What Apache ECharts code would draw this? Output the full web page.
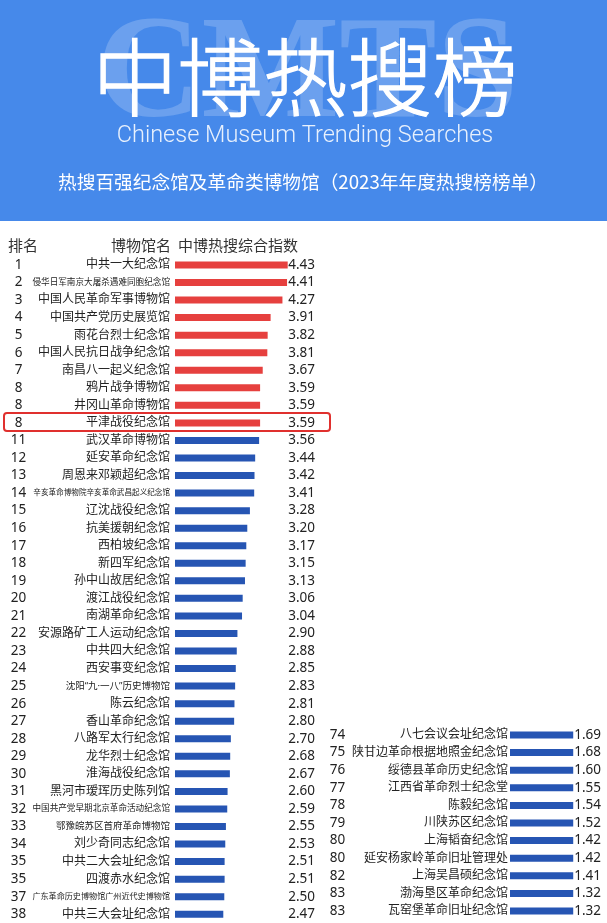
<!DOCTYPE html>
<html><head><meta charset="utf-8">
<script src="https://cdn.jsdelivr.net/npm/echarts@6.0.0/dist/echarts.min.js"></script>
<style>html,body{margin:0;padding:0;background:#fff}#c{width:607px;height:923px}</style>
</head><body><div id="c"></div>
<script>
// ---- data ----
const leftRanks = [1,2,3,4,5,6,7,8,8,8,11,12,13,14,15,16,17,18,19,20,21,22,23,24,25,26,27,28,29,30,31,32,33,34,35,35,37,38];
const leftNames = ['中共一大纪念馆','侵华日军南京大屠杀遇难同胞纪念馆','中国人民革命军事博物馆','中国共产党历史展览馆','雨花台烈士纪念馆','中国人民抗日战争纪念馆','南昌八一起义纪念馆','鸦片战争博物馆','井冈山革命博物馆','平津战役纪念馆','武汉革命博物馆','延安革命纪念馆','周恩来邓颖超纪念馆','辛亥革命博物院辛亥革命武昌起义纪念馆','辽沈战役纪念馆','抗美援朝纪念馆','西柏坡纪念馆','新四军纪念馆','孙中山故居纪念馆','渡江战役纪念馆','南湖革命纪念馆','安源路矿工人运动纪念馆','中共四大纪念馆','西安事变纪念馆','沈阳“九·一八”历史博物馆','陈云纪念馆','香山革命纪念馆','八路军太行纪念馆','龙华烈士纪念馆','淮海战役纪念馆','黑河市瑷珲历史陈列馆','中国共产党早期北京革命活动纪念馆','鄂豫皖苏区首府革命博物馆','刘少奇同志纪念馆','中共二大会址纪念馆','四渡赤水纪念馆','广东革命历史博物馆广州近代史博物馆','中共三大会址纪念馆'];
const leftValues = [4.43,4.41,4.27,3.91,3.82,3.81,3.67,3.59,3.59,3.59,3.56,3.44,3.42,3.41,3.28,3.20,3.17,3.15,3.13,3.06,3.04,2.90,2.88,2.85,2.83,2.81,2.80,2.70,2.68,2.67,2.60,2.59,2.55,2.53,2.51,2.51,2.50,2.47];
const rightRanks = [74,75,76,77,78,79,80,80,82,83,83];
const rightNames = ['八七会议会址纪念馆','陕甘边革命根据地照金纪念馆','绥德县革命历史纪念馆','江西省革命烈士纪念堂','陈毅纪念馆','川陕苏区纪念馆','上海韬奋纪念馆','延安杨家岭革命旧址管理处','上海吴昌硕纪念馆','渤海垦区革命纪念馆','瓦窑堡革命旧址纪念馆'];
const rightValues = [1.69,1.68,1.60,1.55,1.54,1.52,1.42,1.42,1.41,1.32,1.32];
const columnHeaders = ['排名','博物馆名','中博热搜综合指数'];
const titleCN = '中博热搜榜';
const titleEN = 'Chinese Museum Trending Searches';
const subtitle = '热搜百强纪念馆及革命类博物馆（2023年年度热搜榜榜单）';
const watermark = 'CMTS';

// ---- styles ----
const RED = '#e6403e', BLUE = '#2655b3', TXT = '#222';
const FONT = '"Noto Sans", "Noto Sans CJK SC", sans-serif';
const chart = echarts.init(document.getElementById('c'), null, {renderer:'canvas'});

function smallSize(v){
  if (v.indexOf('“') >= 0) return 9.5;
  return Math.min(9.5, 137 / v.length);
}
function keyOf(fs){ return 's' + fs.toFixed(1).replace('.', '_'); }
function leftNameFormatter(v){
  if (v.length <= 11) return '{n|' + v + '}';
  return '{' + keyOf(smallSize(v)) + '|' + v + '}';
}
const rich = {n:{fontSize:12, color:TXT, fontFamily:FONT}};
leftNames.forEach(v=>{
  if (v.length > 11){ const fs = smallSize(v); rich[keyOf(fs)] = {fontSize:+fs.toFixed(1), color:TXT, fontFamily:FONT}; }
});

const LGRID = {left:175, top:256.2, width:115, height:667.3};
const RGRID = {left:510, top:726.2, width:91, height:193.6};

function catAxis(gridIndex, data, extra){
  return Object.assign({type:'category', gridIndex, data, inverse:true,
    axisLine:{show:false}, axisTick:{show:false}, splitLine:{show:false}}, extra);
}

const option = {
  animation:false,
  textStyle:{fontFamily:FONT},
  grid:[Object.assign({containLabel:false}, LGRID), Object.assign({containLabel:false}, RGRID)],
  xAxis:[
    {type:'value', gridIndex:0, min:1, max:4.5, show:false},
    {type:'value', gridIndex:1, min:0, max:1.72, show:false}
  ],
  yAxis:[
    catAxis(0, leftNames, {position:'left', axisLabel:{interval:0, margin:5, formatter:leftNameFormatter, rich}}),
    catAxis(0, leftNames, {position:'left', axisLabel:{interval:0, margin:156.5, align:'center', fontSize:13.5, color:TXT, fontFamily:FONT, formatter:(v,i)=>String(leftRanks[i])}}),
    catAxis(0, leftNames, {position:'right', axisLabel:{interval:0, margin:25, align:'right', fontSize:13.5, color:TXT, fontFamily:FONT, formatter:(v,i)=>leftValues[i].toFixed(2)}}),
    catAxis(1, rightNames, {position:'left', axisLabel:{interval:0, margin:2, fontSize:12, color:TXT, fontFamily:FONT}}),
    catAxis(1, rightNames, {position:'left', axisLabel:{interval:0, margin:172.5, align:'center', fontSize:13.5, color:TXT, fontFamily:FONT, formatter:(v,i)=>String(rightRanks[i])}}),
    catAxis(1, rightNames, {position:'right', z:10, axisLabel:{inside:true, interval:0, margin:0, align:'right', fontSize:13.5, color:TXT, fontFamily:FONT, backgroundColor:'#fff', padding:[0,0,0,1], formatter:(v,i)=>rightValues[i].toFixed(2)}})
  ],
  series:[
    {type:'bar', xAxisIndex:0, yAxisIndex:0, barWidth:7, data:leftValues,
      itemStyle:{color:p=> leftRanks[p.dataIndex] <= 8 ? RED : BLUE}},
    {type:'bar', xAxisIndex:1, yAxisIndex:3, barWidth:7, data:rightValues, itemStyle:{color:BLUE}}
  ],
  graphic:[
    {type:'rect', z:-10, shape:{x:0,y:0,width:607,height:221}, style:{fill:'#4689ea'}},
    {type:'text', z:-5, x:307, y:78, style:{text:watermark, fill:'rgba(255,255,255,0.2)', font:'bold 146px "Liberation Serif", serif', align:'center', verticalAlign:'middle'}},
    {type:'text', x:305, y:78, style:{text:titleCN, fill:'#fff', stroke:'#fff', lineWidth:1.3, font:'300 85px "Noto Sans CJK SC", sans-serif', align:'center', verticalAlign:'middle'}},
    {type:'text', x:305, y:136, style:{text:titleEN, fill:'rgba(255,255,255,0.88)', font:'300 23.5px Roboto, sans-serif', align:'center', verticalAlign:'middle'}},
    {type:'text', x:303, y:182, style:{text:subtitle, fill:'#fff', font:'18.7px "Noto Sans CJK SC", sans-serif', align:'center', verticalAlign:'middle'}},
    {type:'text', x:8, y:245, style:{text:columnHeaders[0], fill:'#333', font:'15px "Noto Sans CJK SC", sans-serif', align:'left', verticalAlign:'middle'}},
    {type:'text', x:171, y:245, style:{text:columnHeaders[1], fill:'#333', font:'15px "Noto Sans CJK SC", sans-serif', align:'right', verticalAlign:'middle'}},
    {type:'text', x:178, y:245, style:{text:columnHeaders[2], fill:'#333', font:'15px "Noto Sans CJK SC", sans-serif', align:'left', verticalAlign:'middle'}},
    {type:'rect', z:20, shape:{x:4, y:413, width:326, height:18, r:3}, style:{fill:'none', stroke:'#e0302e', lineWidth:2}}
  ]
};
chart.setOption(option);
</script>
</body></html>
